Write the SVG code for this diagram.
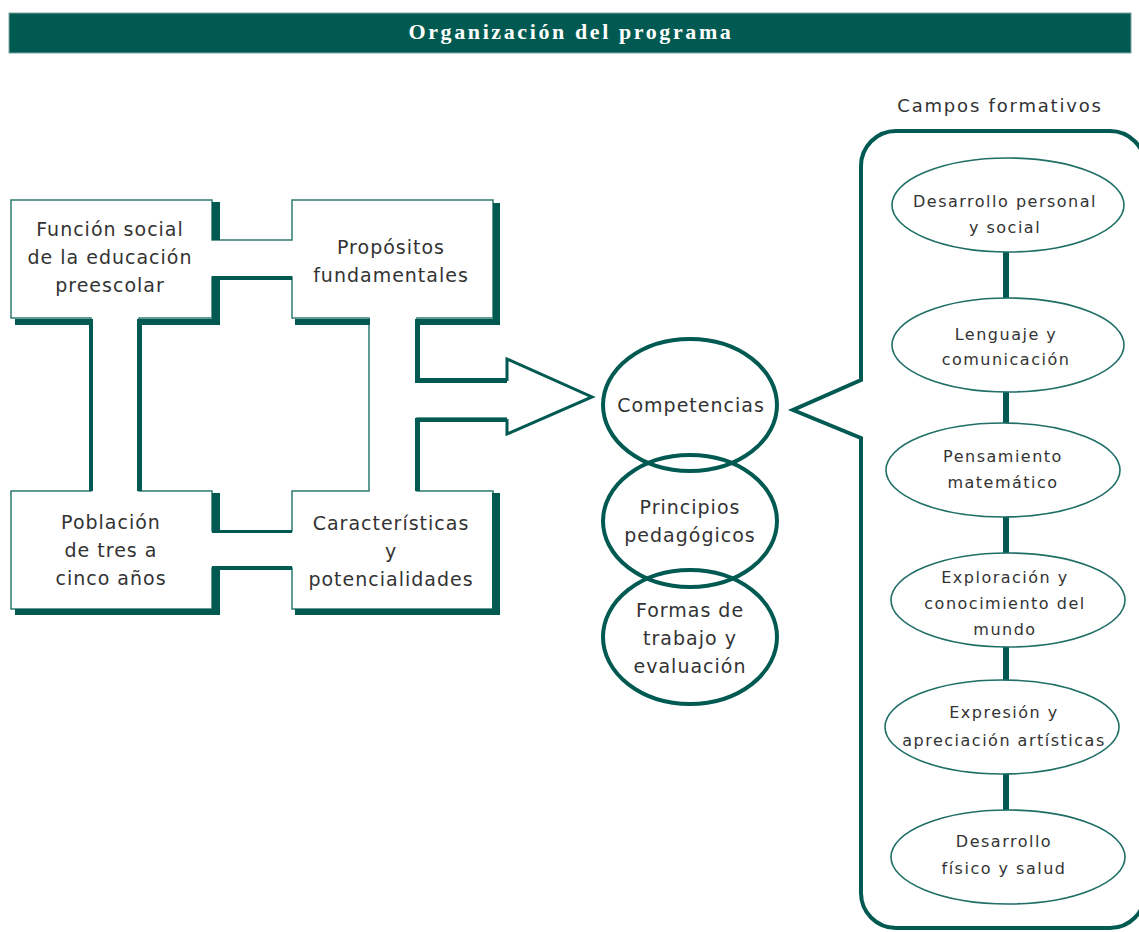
<svg xmlns="http://www.w3.org/2000/svg" width="1139" height="932" viewBox="0 0 1139 932">
<style>
.t{font-family:"DejaVu Sans",Verdana,sans-serif;font-size:19px;fill:#333;text-anchor:middle;letter-spacing:1px}
.s{font-family:"DejaVu Sans",Verdana,sans-serif;font-size:16px;fill:#333;text-anchor:middle;letter-spacing:1.5px}
.thin{fill:none;stroke:#2f7a72;stroke-width:1.5}
.sh{fill:#005a52}
.circ{fill:none;stroke:#005a52;stroke-width:4}
.el{fill:#fff;stroke:#1f6f67;stroke-width:1.6}
.lnk{stroke:#005a52;stroke-width:6}
</style>
<rect width="1139" height="932" fill="#fff"/>
<g id="title">
<rect x="9" y="13" width="1122" height="40" fill="#005a52" stroke="#7aa5a0" stroke-width="1"/>
<text x="571" y="39" font-family="Liberation Serif, serif" font-weight="bold" font-size="22" fill="#fff" text-anchor="middle" letter-spacing="2.6">Organización del programa</text>
</g>
<g id="frame">
<path class="thin" d="M507,418 H417 V491 H493 V609 H292 V568 H212 V609 H11 V491 H91 V318 H11 V200 H212 V240 H292 V200 H493 V318 H417 V380 H507"/>
<path class="thin" d="M139,318 H212 V277 H292 V318 H369 V491 H292 V531 H212 V491 H139 Z"/>
<polyline points="507,381 507,359 592,397 507,434 507,419" fill="none" stroke="#005a52" stroke-width="3"/>
<rect class="sh" x="212" y="202" width="8" height="38"/>
<rect class="sh" x="212" y="276" width="8" height="49"/>
<rect class="sh" x="212" y="276" width="80" height="4"/>
<rect class="sh" x="15" y="319" width="78" height="6"/>
<rect class="sh" x="89" y="319" width="4" height="172"/>
<rect class="sh" x="137" y="319" width="5" height="172"/>
<rect class="sh" x="137" y="319" width="83" height="6"/>
<rect class="sh" x="493" y="203" width="7" height="122"/>
<rect class="sh" x="295" y="319" width="75" height="6"/>
<rect class="sh" x="415" y="319" width="85" height="6"/>
<rect class="sh" x="415" y="319" width="5" height="64"/>
<rect class="sh" x="415" y="378" width="92" height="5"/>
<rect class="sh" x="415" y="418" width="92" height="4"/>
<rect class="sh" x="415" y="418" width="5" height="73"/>
<rect class="sh" x="212" y="493" width="8" height="40"/>
<rect class="sh" x="212" y="530" width="80" height="3"/>
<rect class="sh" x="212" y="566" width="80" height="4"/>
<rect class="sh" x="212" y="566" width="8" height="49"/>
<rect class="sh" x="15" y="609" width="205" height="6"/>
<rect class="sh" x="492" y="493" width="8" height="122"/>
<rect class="sh" x="295" y="609" width="205" height="6"/>
</g>
<g id="n-funcion"><text class="t" x="110" y="236">Función social</text><text class="t" x="110" y="264">de la educación</text><text class="t" x="110" y="292">preescolar</text></g>
<g id="n-propositos"><text class="t" x="391" y="254">Propósitos</text><text class="t" x="391" y="282">fundamentales</text></g>
<g id="n-poblacion"><text class="t" x="111" y="529">Población</text><text class="t" x="111" y="557">de tres a</text><text class="t" x="111" y="585">cinco años</text></g>
<g id="n-caracteristicas"><text class="t" x="391" y="530">Características</text><text class="t" x="391" y="558">y</text><text class="t" x="391" y="586">potencialidades</text></g>
<g id="n-competencias"><ellipse class="circ" cx="690" cy="405" rx="87" ry="66"/><text class="t" x="691" y="412">Competencias</text></g>
<g id="n-principios"><ellipse class="circ" cx="690" cy="521" rx="87" ry="66"/><text class="t" x="690" y="514">Principios</text><text class="t" x="690" y="542">pedagógicos</text></g>
<g id="n-formas"><ellipse class="circ" cx="690" cy="637" rx="87" ry="67"/><text class="t" x="690" y="617">Formas de</text><text class="t" x="690" y="645">trabajo y</text><text class="t" x="690" y="673">evaluación</text></g>
<g id="campos">
<text x="1000" y="112" font-family="DejaVu Sans, Verdana, sans-serif" font-size="18" fill="#333" text-anchor="middle" letter-spacing="1.8">Campos formativos</text>
<path d="M861,166 A35,35 0 0 1 896,131 H1110 A35,35 0 0 1 1145,166 V893 A35,35 0 0 1 1110,928 H896 A35,35 0 0 1 861,893 V438 L793,410 L861,380 Z" fill="none" stroke="#005a52" stroke-width="4"/>
</g>
<g id="connectors">
<line class="lnk" x1="1006" y1="252" x2="1006" y2="299"/>
<line class="lnk" x1="1006" y1="391" x2="1006" y2="424"/>
<line class="lnk" x1="1006" y1="516" x2="1006" y2="554"/>
<line class="lnk" x1="1006" y1="646" x2="1006" y2="681"/>
<line class="lnk" x1="1006" y1="774" x2="1006" y2="811"/>
</g>
<g id="c1"><ellipse class="el" cx="1008" cy="205" rx="116" ry="47"/><text class="s" x="1005" y="207">Desarrollo personal</text><text class="s" x="1005" y="233">y social</text></g>
<g id="c2"><ellipse class="el" cx="1008" cy="345" rx="116" ry="47"/><text class="s" x="1006" y="340">Lenguaje y</text><text class="s" x="1006" y="365">comunicación</text></g>
<g id="c3"><ellipse class="el" cx="1003" cy="470" rx="117" ry="47"/><text class="s" x="1003" y="462">Pensamiento</text><text class="s" x="1003" y="488">matemático</text></g>
<g id="c4"><ellipse class="el" cx="1008" cy="600" rx="117" ry="47"/><text class="s" x="1005" y="583">Exploración y</text><text class="s" x="1005" y="609">conocimiento del</text><text class="s" x="1005" y="635">mundo</text></g>
<g id="c5"><ellipse class="el" cx="1002" cy="727" rx="117" ry="47"/><text class="s" x="1004" y="718">Expresión y</text><text class="s" x="1004" y="746">apreciación artísticas</text></g>
<g id="c6"><ellipse class="el" cx="1008" cy="857" rx="117" ry="47"/><text class="s" x="1004" y="847">Desarrollo</text><text class="s" x="1004" y="874">físico y salud</text></g>
</svg>
